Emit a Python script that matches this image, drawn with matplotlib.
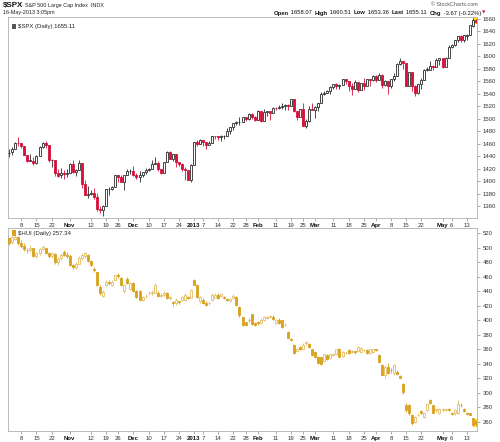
import numpy as np
import pandas as pd
import matplotlib
matplotlib.use("Agg")
import matplotlib.pyplot as plt
from matplotlib.patches import Rectangle

# ---------------------------------------------------------------------------
# trading days Oct 2 2012 .. May 16 2013 (NYSE holidays / Sandy removed)
# ---------------------------------------------------------------------------
closed = ["2012-10-29", "2012-10-30", "2012-11-22", "2012-12-25",
          "2013-01-01", "2013-01-21", "2013-02-18", "2013-03-29"]
dates = pd.bdate_range("2012-10-02", "2013-05-16")
dates = dates[~dates.isin(pd.to_datetime(closed))]

# ---- $SPX daily OHLC ----
spx_open = [1444.99, 1446.05, 1451.08, 1461.40, 1460.93, 1455.90, 1441.48, 1432.82, 1432.84, 1428.75,
            1440.31, 1454.22, 1460.94, 1457.34, 1433.21, 1433.74, 1413.20, 1409.74, 1412.97, 1410.99,
            1412.20, 1427.59, 1414.02, 1417.26, 1428.27, 1394.53, 1377.55, 1379.86, 1380.03, 1374.64,
            1355.41, 1353.36, 1359.88, 1386.82, 1387.79, 1391.03, 1409.15, 1406.29, 1398.77, 1409.96,
            1415.95, 1416.34, 1409.46, 1407.05, 1409.43, 1413.95, 1418.07, 1418.55, 1427.84, 1428.48,
            1419.45, 1413.54, 1430.47, 1446.79, 1435.81, 1443.67, 1430.15, 1426.66, 1419.83, 1418.10,
            1402.43, 1426.19, 1462.42, 1459.37, 1466.47, 1461.89, 1457.15, 1461.02, 1472.12, 1472.05,
            1470.67, 1472.33, 1472.63, 1480.95, 1485.98, 1492.56, 1494.81, 1494.82, 1502.96, 1500.18,
            1507.84, 1501.96, 1498.11, 1513.17, 1495.71, 1511.29, 1512.12, 1509.39, 1517.93, 1517.01,
            1519.43, 1520.33, 1521.38, 1519.79, 1530.94, 1511.95, 1502.42, 1515.60, 1487.85, 1496.94,
            1515.99, 1514.68, 1518.20, 1525.20, 1539.79, 1541.46, 1544.26, 1551.15, 1556.22, 1552.48,
            1554.52, 1563.21, 1560.70, 1552.10, 1548.34, 1558.71, 1545.90, 1556.89, 1551.69, 1563.75,
            1562.86, 1569.18, 1562.17, 1570.25, 1553.69, 1559.98, 1553.26, 1563.11, 1568.61, 1587.73,
            1593.30, 1588.84, 1552.36, 1574.57, 1552.03, 1541.61, 1555.25, 1562.50, 1578.78, 1578.93,
            1585.16, 1582.34, 1593.58, 1597.55, 1582.77, 1597.60, 1614.40, 1617.55, 1625.95, 1632.69,
            1626.69, 1632.10, 1633.75, 1649.13, 1658.07]
spx_high = [1451.52, 1454.30, 1463.14, 1470.96, 1460.93, 1455.90, 1442.52, 1443.90, 1438.43, 1441.31,
            1455.51, 1462.20, 1464.02, 1457.34, 1435.46, 1433.74, 1420.04, 1421.12, 1417.09, 1418.76,
            1428.35, 1434.27, 1419.90, 1433.38, 1428.27, 1401.23, 1391.39, 1384.87, 1388.81, 1380.13,
            1360.62, 1362.03, 1386.89, 1389.77, 1391.25, 1409.16, 1409.15, 1409.01, 1410.31, 1419.70,
            1418.86, 1423.73, 1413.14, 1415.56, 1413.95, 1420.34, 1421.64, 1434.27, 1438.59, 1431.36,
            1419.45, 1430.67, 1448.00, 1447.75, 1443.70, 1443.67, 1430.15, 1429.42, 1422.80, 1418.10,
            1426.74, 1462.43, 1465.47, 1467.94, 1466.47, 1461.89, 1464.73, 1472.30, 1472.75, 1472.05,
            1473.31, 1473.96, 1485.16, 1485.98, 1492.56, 1496.13, 1502.27, 1503.26, 1503.23, 1509.35,
            1509.94, 1504.19, 1514.41, 1513.17, 1514.96, 1512.53, 1512.90, 1518.31, 1518.31, 1522.29,
            1524.69, 1523.14, 1524.24, 1530.94, 1530.94, 1511.95, 1515.64, 1525.84, 1498.99, 1520.08,
            1525.34, 1519.99, 1525.27, 1543.47, 1545.25, 1545.78, 1552.48, 1556.27, 1556.77, 1556.39,
            1563.32, 1563.62, 1560.70, 1557.25, 1561.56, 1558.71, 1557.74, 1564.91, 1563.95, 1564.07,
            1570.28, 1570.57, 1573.66, 1571.47, 1562.60, 1559.98, 1563.07, 1573.89, 1589.07, 1597.35,
            1593.30, 1588.84, 1575.35, 1574.57, 1554.38, 1555.89, 1565.55, 1579.58, 1583.00, 1592.64,
            1585.78, 1596.65, 1597.57, 1597.55, 1598.60, 1618.46, 1619.77, 1626.03, 1632.78, 1635.01,
            1633.70, 1636.00, 1651.10, 1661.49, 1660.51]
spx_low = [1439.01, 1441.99, 1451.08, 1456.89, 1453.10, 1441.18, 1430.64, 1432.82, 1425.53, 1427.24,
           1440.31, 1453.35, 1452.63, 1429.85, 1422.06, 1407.56, 1407.10, 1405.14, 1403.28, 1405.95,
           1412.20, 1412.91, 1408.13, 1417.26, 1388.14, 1377.51, 1373.03, 1377.19, 1371.39, 1352.50,
           1348.05, 1343.35, 1359.88, 1377.04, 1386.39, 1391.03, 1397.68, 1398.03, 1385.43, 1409.04,
           1411.63, 1408.46, 1403.65, 1398.23, 1405.93, 1410.90, 1415.64, 1418.55, 1426.76, 1416.00,
           1411.88, 1413.54, 1430.47, 1435.80, 1432.82, 1422.58, 1424.66, 1416.43, 1401.80, 1401.58,
           1398.11, 1426.19, 1455.53, 1458.99, 1456.62, 1451.64, 1457.15, 1461.02, 1467.58, 1465.69,
           1463.76, 1467.60, 1472.63, 1475.81, 1481.16, 1489.90, 1489.46, 1494.82, 1496.33, 1498.09,
           1500.11, 1496.76, 1498.11, 1495.02, 1495.71, 1504.71, 1498.49, 1509.39, 1513.61, 1515.61,
           1515.93, 1514.02, 1514.14, 1519.79, 1511.41, 1497.29, 1502.42, 1487.85, 1485.01, 1494.88,
           1514.46, 1501.48, 1512.29, 1525.20, 1538.11, 1541.46, 1539.19, 1547.36, 1548.24, 1548.25,
           1554.52, 1555.74, 1545.13, 1538.57, 1548.34, 1543.55, 1545.90, 1546.22, 1551.69, 1551.90,
           1561.08, 1558.47, 1562.17, 1549.80, 1552.52, 1539.50, 1548.63, 1560.92, 1568.61, 1586.17,
           1579.97, 1552.28, 1552.36, 1543.69, 1536.03, 1539.40, 1548.19, 1562.50, 1575.80, 1578.93,
           1577.56, 1582.34, 1586.50, 1581.28, 1582.77, 1597.60, 1614.21, 1616.64, 1622.70, 1623.09,
           1623.71, 1626.74, 1633.75, 1646.68, 1653.36]
spx_close = [1445.75, 1450.99, 1461.40, 1460.93, 1455.88, 1441.48, 1432.56, 1432.84, 1428.59, 1440.13,
             1454.92, 1460.91, 1457.34, 1433.19, 1433.82, 1413.11, 1408.75, 1412.97, 1411.94, 1412.16,
             1427.59, 1414.20, 1417.26, 1428.39, 1394.53, 1377.51, 1379.85, 1380.03, 1374.53, 1355.49,
             1353.33, 1359.88, 1386.89, 1387.81, 1391.03, 1409.15, 1406.29, 1398.94, 1409.93, 1415.95,
             1416.18, 1409.46, 1407.05, 1409.28, 1413.94, 1418.07, 1418.55, 1427.84, 1428.48, 1419.45,
             1413.58, 1430.36, 1446.79, 1435.81, 1443.69, 1430.15, 1426.66, 1419.83, 1418.10, 1402.43,
             1426.19, 1462.42, 1459.37, 1466.47, 1461.89, 1457.15, 1461.02, 1472.12, 1472.05, 1470.68,
             1472.34, 1472.63, 1480.94, 1485.98, 1492.56, 1494.81, 1494.82, 1502.96, 1500.18, 1507.84,
             1501.96, 1498.11, 1513.17, 1495.71, 1511.29, 1512.12, 1509.39, 1517.93, 1517.01, 1519.43,
             1520.33, 1521.38, 1519.79, 1530.94, 1511.95, 1502.42, 1515.60, 1487.85, 1496.94, 1515.99,
             1514.68, 1518.20, 1525.20, 1539.79, 1541.46, 1544.26, 1551.18, 1556.22, 1552.48, 1554.52,
             1563.23, 1560.70, 1552.10, 1548.34, 1558.71, 1545.80, 1556.89, 1551.69, 1563.77, 1562.85,
             1569.19, 1562.17, 1570.25, 1553.69, 1559.98, 1553.28, 1563.07, 1568.61, 1587.73, 1593.37,
             1588.85, 1552.36, 1574.57, 1552.01, 1541.61, 1555.25, 1562.50, 1578.78, 1578.79, 1585.16,
             1582.24, 1593.61, 1597.57, 1582.70, 1597.59, 1614.42, 1617.50, 1625.96, 1632.69, 1626.67,
             1633.70, 1633.77, 1650.34, 1658.78, 1655.11]

# ---- $HUI daily OHLC ----
hui_open = [513, 507, 512, 514, 506, 502, 497, 496, 499, 489,
            492, 498, 499, 492, 488, 491, 480, 485, 494, 490,
            489, 476, 473, 478, 485, 489, 490, 481, 471, 466,
            446, 434, 448, 452, 449, 456, 462, 458, 440, 457,
            443, 451, 440, 440, 428, 433, 437, 438, 438, 438,
            434, 435, 438, 431, 425, 424, 426, 428, 428, 432,
            431, 455, 449, 426, 428, 424, 424, 428, 431, 435,
            434, 432, 429, 427, 430, 432, 418, 404, 397, 401,
            408, 396, 397, 396, 401, 403, 405, 405, 396, 401,
            400, 393, 384, 374, 366, 358, 363, 360, 368, 367,
            360, 356, 350, 349, 344, 352, 348, 352, 353, 360,
            351, 355, 359, 356, 357, 357, 356, 359, 359, 355,
            356, 360, 352, 339, 325, 335, 332, 327, 329, 323,
            312, 284, 283, 269, 260, 269, 275, 267, 276, 290,
            283, 276, 272, 277, 277, 278, 273, 272, 272, 284,
            278, 272, 272, 265, 262]
hui_high = [515, 516, 517, 516, 510, 506, 500, 503, 500, 494,
            500, 503, 500, 494, 494, 492, 487, 492, 497, 494,
            491, 478, 480, 488, 493, 494, 491, 483, 473, 467,
            448, 441, 455, 455, 455, 464, 465, 459, 450, 460,
            452, 453, 441, 441, 434, 436, 440, 441, 451, 440,
            437, 440, 439, 433, 426, 430, 427, 433, 437, 434,
            443, 457, 450, 434, 430, 426, 426, 437, 437, 437,
            438, 434, 431, 431, 436, 434, 419, 405, 398, 403,
            409, 398, 399, 403, 406, 406, 407, 407, 402, 403,
            401, 396, 385, 375, 367, 362, 365, 368, 372, 368,
            361, 357, 351, 350, 354, 353, 354, 355, 361, 362,
            357, 357, 361, 359, 358, 365, 363, 361, 360, 361,
            361, 361, 353, 340, 338, 341, 334, 340, 331, 325,
            313, 286, 285, 271, 268, 272, 276, 273, 286, 292,
            284, 279, 279, 279, 278, 279, 274, 278, 290, 286,
            279, 274, 273, 266, 263]
hui_low = [504, 505, 510, 504, 500, 495, 492, 494, 487, 486,
           490, 496, 491, 486, 486, 477, 476, 483, 488, 485,
           474, 470, 471, 477, 483, 486, 480, 474, 467, 447,
           435, 432, 447, 449, 447, 455, 458, 447, 437, 450,
           441, 439, 431, 427, 426, 430, 435, 435, 437, 432,
           432, 433, 429, 428, 420, 421, 423, 426, 426, 429,
           430, 448, 430, 424, 422, 419, 421, 427, 430, 429,
           432, 429, 426, 426, 429, 419, 405, 392, 392, 398,
           393, 392, 394, 395, 399, 402, 403, 400, 395, 395,
           390, 392, 375, 371, 354, 357, 359, 359, 366, 362,
           351, 348, 340, 338, 342, 345, 346, 351, 352, 349,
           350, 353, 354, 355, 354, 356, 355, 357, 354, 354,
           355, 357, 341, 324, 321, 326, 328, 325, 324, 320,
           299, 274, 270, 256, 258, 268, 271, 265, 275, 285,
           272, 274, 271, 275, 275, 275, 270, 270, 271, 281,
           274, 270, 269, 255, 254]
hui_close = [506, 514, 515, 506, 502, 498, 496, 500, 489, 492,
             498, 501, 493, 489, 492, 480, 484, 490, 490, 488,
             476, 473, 478, 486, 490, 492, 482, 476, 469, 449,
             438, 439, 453, 451, 453, 462, 461, 449, 449, 451,
             451, 440, 432, 428, 432, 433, 438, 438, 449, 434,
             435, 438, 430, 431, 424, 428, 425, 432, 435, 431,
             442, 449, 432, 432, 424, 421, 424, 435, 435, 431,
             436, 431, 428, 429, 434, 421, 407, 394, 394, 400,
             395, 394, 396, 401, 404, 405, 405, 402, 401, 396,
             391, 394, 376, 373, 355, 360, 360, 366, 370, 363,
             352, 349, 341, 340, 353, 346, 353, 353, 360, 350,
             356, 355, 355, 357, 356, 363, 362, 359, 355, 360,
             360, 359, 342, 325, 336, 327, 331, 338, 326, 321,
             301, 276, 272, 258, 267, 270, 272, 272, 285, 286,
             273, 278, 278, 277, 277, 277, 271, 276, 285, 283,
             275, 271, 270, 256, 257.34]

x_labels = ["8", "15", "22", "Nov", "12", "19", "26", "Dec", "10", "17", "24", "2013",
            "7", "14", "22", "28", "Feb", "11", "19", "25", "Mar", "11", "18", "25",
            "Apr", "8", "15", "22", "May", "6", "13"]
x_label_dates = ["2012-10-08", "2012-10-15", "2012-10-22", "2012-11-01", "2012-11-12",
                 "2012-11-19", "2012-11-26", "2012-12-03", "2012-12-10", "2012-12-17",
                 "2012-12-24", "2013-01-02", "2013-01-07", "2013-01-14", "2013-01-22",
                 "2013-01-28", "2013-02-01", "2013-02-11", "2013-02-19", "2013-02-25",
                 "2013-03-01", "2013-03-11", "2013-03-18", "2013-03-25", "2013-04-01",
                 "2013-04-08", "2013-04-15", "2013-04-22", "2013-05-01", "2013-05-06",
                 "2013-05-13"]

spx_ticks = np.arange(1360, 1661, 20)
hui_ticks = np.arange(260, 521, 20)

RED = "#D4103A"
BLACK = "#2a2a2a"
GOLD = "#D9A11E"
GOLD_LIGHT = "#E4BC62"

plt.rcParams["font.family"] = ["Liberation Sans", "DejaVu Sans"]

W, H = 500, 442
fig = plt.figure(figsize=(W / 100, H / 100), dpi=100)
fig.patch.set_facecolor("white")


def px_axes(left, top, right, bottom):
    return fig.add_axes([left / W, 1 - bottom / H, (right - left) / W, (bottom - top) / H])


ax1 = px_axes(8, 17, 477, 218)
ax2 = px_axes(8, 228, 477, 431)

xs = np.arange(len(dates))
tick_pos = [int(np.where(dates == pd.Timestamp(d))[0][0]) for d in x_label_dates]


def candles(ax, o, h, l, c, up_col, dn_col, kind="spx"):
    o, h, l, c = map(np.asarray, (o, h, l, c))
    prev = np.concatenate([[c[0]], c[:-1]])
    for i in xs:
        hollow = c[i] >= o[i]
        if kind == "spx":
            col = dn_col if c[i] < prev[i] else up_col
            edge = col
        else:
            col = GOLD
            edge = GOLD_LIGHT if hollow else GOLD
        ax.vlines(i, l[i], h[i], color=edge, lw=0.6, zorder=2)
        body = max(abs(c[i] - o[i]), 0.35)
        ax.add_patch(Rectangle((i - 0.33, min(o[i], c[i])), 0.66, body,
                               facecolor="white" if hollow else col,
                               edgecolor=edge, lw=0.6, zorder=3))


candles(ax1, spx_open, spx_high, spx_low, spx_close, BLACK, RED, kind="spx")
candles(ax2, hui_open, hui_high, hui_low, hui_close, GOLD, GOLD, kind="hui")

# highlight of the latest bar
last = xs[-1]
ax1.add_patch(Rectangle((last - 0.9, spx_low[-1] - 1.5), 1.8, spx_high[-1] - spx_low[-1] + 3,
                        facecolor="#FFE600", edgecolor="none", zorder=1))
ax2.add_patch(Rectangle((last - 0.9, hui_low[-1] - 1.5), 1.8, hui_high[-1] - hui_low[-1] + 3,
                        facecolor="#FFE600", edgecolor="none", zorder=1))

x_left = -0.4
x_right = x_left + 469 / 3.03
ax1.set_ylim(1340.7, 1663.2)
ax2.set_ylim(247.6, 526.9)
ax1.set_yticks(spx_ticks)
ax2.set_yticks(hui_ticks)

for ax in (ax1, ax2):
    ax.set_xlim(x_left, x_right)
    ax.set_facecolor("white")
    for s in ax.spines.values():
        s.set_color("#b0b0b0")
        s.set_linewidth(0.6)
    ax.yaxis.tick_right()
    ax.tick_params(axis="y", which="major", length=2, width=0.5, color="#888888",
                   labelsize=4.3, labelcolor="#333333", pad=2)
    ax.set_xticks(tick_pos)
    ax.set_xticklabels(x_labels)
    ax.tick_params(axis="x", which="major", length=2, width=0.5, color="#888888",
                   labelsize=4.3, labelcolor="#333333", pad=1.5)
    for lab in ax.get_xticklabels():
        if lab.get_text() in ("Nov", "Dec", "2013", "Feb", "Mar", "Apr", "May"):
            lab.set_fontweight("bold")
            lab.set_color("#111111")

# ---- header texts ----
fig.text(3 / W, 1 - 5 / H, "$SPX", fontsize=5.8, fontweight="bold", va="center", color="#111111")
fig.text(25 / W, 1 - 5 / H, "S&P 500 Large Cap Index  INDX", fontsize=3.9, va="center", color="#222222")
fig.text(3 / W, 1 - 12.5 / H, "16-May-2013 3:05pm", fontsize=3.9, va="center", color="#222222")
fig.text(478 / W, 1 - 5 / H, "© StockCharts.com", fontsize=3.9, va="center", ha="right", color="#555555")

parts = [("Open", True), (" 1658.07  ", False), ("High", True), (" 1660.51  ", False),
         ("Low", True), (" 1653.36  ", False), ("Last", True), (" 1655.11  ", False),
         ("Chg", True), (" -3.67 (-0.22%)", False)]
fig.canvas.draw()
renderer = fig.canvas.get_renderer()
hdr = []
for txt, bold in parts:
    t = fig.text(0, 1 - 13 / H, txt, fontsize=4.2, va="center",
                 fontweight="bold" if bold else "normal", color="#111111")
    hdr.append(t)
widths = [t.get_window_extent(renderer=renderer).width for t in hdr]
xcur = 481 - sum(widths)
for t, w in zip(hdr, widths):
    t.set_x(xcur / W)
    xcur += w
fig.text(482 / W, 1 - 13 / H, "▼", fontsize=3.2, va="center", color=RED,
         family=["DejaVu Sans"])

# legends inside the panels
ax1.add_patch(Rectangle((0.008, 0.94), 0.01, 0.026, transform=ax1.transAxes,
                        facecolor="#555555", edgecolor="none", zorder=5))
ax1.text(0.022, 0.953, "$SPX (Daily) 1655.11", transform=ax1.transAxes, fontsize=4.3,
         va="center", color="#222222")
ax2.add_patch(Rectangle((0.008, 0.962), 0.01, 0.026, transform=ax2.transAxes,
                        facecolor=GOLD, edgecolor="none", zorder=5))
ax2.text(0.022, 0.975, "$HUI (Daily) 257.34", transform=ax2.transAxes, fontsize=4.3,
         va="center", color="#222222", zorder=6)

fig.savefig("out.png", dpi=100, facecolor="white")
